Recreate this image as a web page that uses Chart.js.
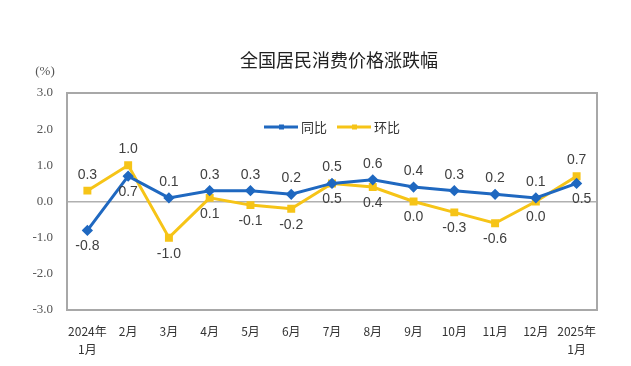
<!DOCTYPE html>
<html>
<head>
<meta charset="utf-8">
<script src="https://cdn.jsdelivr.net/npm/chart.js@4"></script>
<style>
  html, body { margin: 0; padding: 0; background: #fff; }
  #wrap { width: 631px; height: 366px; }
</style>
</head>
<body>
<div id="wrap"><canvas id="cpi"></canvas></div>
<script>
// data
const months = [["2024年", "1月"], "2月", "3月", "4月", "5月", "6月", "7月", "8月", "9月", "10月", "11月", "12月", ["2025年", "1月"]];
const yoy = [-0.8, 0.7, 0.1, 0.3, 0.3, 0.2, 0.5, 0.6, 0.4, 0.3, 0.2, 0.1, 0.5];   // 同比
const mom = [0.3, 1.0, -1.0, 0.1, -0.1, -0.2, 0.5, 0.4, 0.0, -0.3, -0.6, 0.0, 0.7]; // 环比
const yTicks = [-3, -2, -1, 0, 1, 2, 3];

// where each value label sits: 1 = above the point, -1 = below
const yoyLabelSide = [-1, -1, 1, 1, 1, 1, 1, 1, 1, 1, 1, 1, -1];
const momLabelSide = [1, 1, -1, -1, -1, -1, -1, -1, -1, -1, -1, -1, 1];

const BLUE = "#1f68c0";
const YELLOW = "#f6c417";

// frame, title, unit, legend and value labels
const decor = {
    id: "decor",
    afterDatasetsDraw(chart) {
        const ctx = chart.ctx;
        const a = chart.chartArea;
        ctx.save();

        ctx.strokeStyle = "#a8a8a8";
        ctx.lineWidth = 2;
        ctx.strokeRect(a.left, a.top, a.right - a.left, a.bottom - a.top);

        ctx.fillStyle = "#222";
        ctx.font = "18px 'Noto Sans CJK SC'";
        ctx.textAlign = "center";
        ctx.textBaseline = "middle";
        ctx.fillText("全国居民消费价格涨跌幅", 339, 60);

        ctx.fillStyle = "#555";
        ctx.font = "13px 'Liberation Serif'";
        ctx.fillText("(%)", 45, 72);

        // legend
        const items = [
            { text: "同比", color: BLUE, x: 264 },
            { text: "环比", color: YELLOW, x: 337 }
        ];
        ctx.font = "13px 'Noto Sans CJK SC'";
        ctx.textAlign = "left";
        items.forEach(it => {
            ctx.strokeStyle = it.color;
            ctx.lineWidth = 3;
            ctx.beginPath();
            ctx.moveTo(it.x, 127);
            ctx.lineTo(it.x + 34, 127);
            ctx.stroke();
            ctx.fillStyle = it.color;
            ctx.fillRect(it.x + 15, 124.5, 5, 5);
            ctx.fillStyle = "#333";
            ctx.fillText(it.text, it.x + 37, 127);
        });

        // value labels
        ctx.font = "14px 'Liberation Sans'";
        ctx.fillStyle = "#404040";
        ctx.textAlign = "center";
        const sides = [yoyLabelSide, momLabelSide];
        chart.data.datasets.forEach((ds, di) => {
            chart.getDatasetMeta(di).data.forEach((pt, i) => {
                const dx = (di === 0 && i === 12) ? 5 : 0;
                const y = pt.y - sides[di][i] * 16;
                ctx.fillText(ds.data[i].toFixed(1), pt.x + dx, y);
            });
        });
        ctx.restore();
    }
};

new Chart(document.getElementById("cpi"), {
    type: "line",
    data: {
        labels: months,
        datasets: [
            {
                label: "同比",
                data: yoy,
                borderColor: BLUE,
                backgroundColor: BLUE,
                borderWidth: 3,
                pointStyle: "rectRot",
                pointRadius: 3.5,
                pointHoverRadius: 3.5,
                tension: 0
            },
            {
                label: "环比",
                data: mom,
                borderColor: YELLOW,
                backgroundColor: YELLOW,
                borderWidth: 3,
                pointStyle: "rect",
                pointRadius: 3.5,
                pointHoverRadius: 3.5,
                tension: 0
            }
        ]
    },
    options: {
        responsive: true,
        maintainAspectRatio: false,
        animation: false,
        layout: { padding: { top: 93, right: 34, bottom: 0, left: 0 } },
        plugins: {
            legend: { display: false },
            tooltip: { enabled: false }
        },
        scales: {
            x: {
                offset: true,
                grid: { display: false },
                border: { display: false },
                ticks: {
                    color: "#333",
                    font: { family: "'Noto Sans CJK SC'", size: 12, lineHeight: 1.45 },
                    maxRotation: 0,
                    autoSkip: false,
                    padding: 5
                },
                afterFit(scale) { scale.height = 56; }
            },
            y: {
                min: -3,
                max: 3,
                afterBuildTicks(scale) { scale.ticks = yTicks.map(v => ({ value: v })); },
                border: { display: false },
                grid: {
                    color: ctx => ctx.tick && ctx.tick.value === 0 ? "#b0b0b0" : "rgba(0,0,0,0)",
                    lineWidth: 1.5,
                    drawTicks: false
                },
                ticks: {
                    color: "#555",
                    font: { family: "'Liberation Serif'", size: 13 },
                    padding: 14,
                    callback: v => v.toFixed(1)
                },
                afterFit(scale) { scale.width = 67; }
            }
        }
    },
    plugins: [decor]
});
</script>
</body>
</html>
